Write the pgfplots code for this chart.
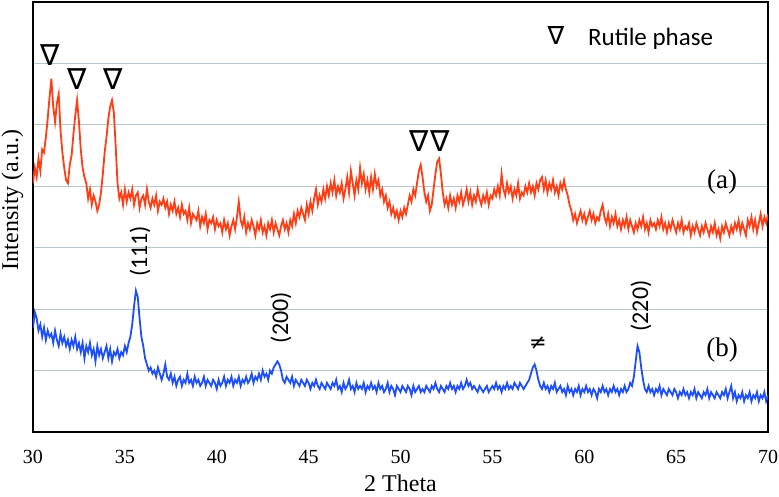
\documentclass[border=0pt]{standalone}
\usepackage{pgfplots}
\pgfplotsset{compat=1.18}
\usepackage{fontspec}
\setmainfont{Liberation Serif}
\newfontfamily\carl{Carlito}
\newfontfamily\dejavu{DejaVu Sans}
\definecolor{gridc}{RGB}{185,198,204}
\definecolor{redc}{RGB}{255,62,22}
\definecolor{bluec}{RGB}{30,78,245}
\begin{document}
\begin{tikzpicture}
\path[use as bounding box] (-33pt,-64pt) rectangle (746pt,432pt);
\begin{axis}[
  scale only axis, width=735pt, height=430pt,
  xmin=30, xmax=70, ymin=0, ymax=7,
  xtick={30,35,...,70}, ytick={1,2,3,4,5,6}, yticklabels={},
  ymajorgrids, grid style={color=gridc, line width=1.2pt},
  major tick length=0pt,
  axis line style={line width=1.2pt},
  tick label style={font=\fontsize{20}{22}\selectfont},
  xticklabel style={yshift=-25pt, anchor=center},
  /pgf/number format/assume math mode=true,
  xlabel={2 Theta}, ylabel={Intensity (a.u.)},
  label style={font=\fontsize{24}{26}\selectfont},
  xlabel style={at={(axis description cs:0.5,-0.139)}, anchor=base},
  ylabel style={at={(axis description cs:-0.0204,0.54)}, anchor=base},
]
\addplot[color=redc, line width=1.8pt] coordinates {
(30.0,4.05)(30.1,4.30)(30.2,4.15)(30.3,4.45)(30.4,4.25)(30.5,4.60)(30.6,4.55)(30.7,4.80)(30.8,5.10)(30.9,5.45)
(31.0,5.75)(31.1,5.30)(31.2,5.05)(31.3,5.35)(31.4,5.50)(31.5,4.90)(31.6,4.55)(31.7,4.30)(31.8,4.10)(31.9,4.05)
(32.0,4.35)(32.1,4.50)(32.2,4.85)(32.3,5.15)(32.4,5.40)(32.5,5.05)(32.6,4.60)(32.7,4.30)(32.8,4.15)(32.9,4.05)
(33.0,3.80)(33.1,3.95)(33.2,3.70)(33.3,3.85)(33.4,3.75)(33.5,3.60)(33.6,3.70)(33.7,3.90)(33.8,4.20)(33.9,4.55)
(34.0,4.80)(34.1,5.10)(34.2,5.30)(34.3,5.40)(34.4,5.20)(34.5,4.65)(34.6,4.05)(34.7,3.80)(34.8,3.90)(34.9,3.70)
(35.0,3.95)(35.1,3.75)(35.2,3.90)(35.3,3.80)(35.4,3.95)(35.5,3.70)(35.6,3.85)(35.7,3.90)(35.8,3.65)(35.9,3.80)
(36.0,3.85)(36.1,3.70)(36.2,3.95)(36.3,3.75)(36.4,3.65)(36.5,3.80)(36.6,3.70)(36.7,3.85)(36.8,3.60)(36.9,3.75)
(37.0,3.70)(37.1,3.80)(37.2,3.65)(37.3,3.75)(37.4,3.55)(37.5,3.70)(37.6,3.60)(37.7,3.75)(37.8,3.55)(37.9,3.65)
(38.0,3.50)(38.1,3.70)(38.2,3.55)(38.3,3.60)(38.4,3.45)(38.5,3.65)(38.6,3.40)(38.7,3.55)(38.8,3.50)(38.9,3.45)
(39.0,3.60)(39.1,3.35)(39.2,3.50)(39.3,3.40)(39.4,3.55)(39.5,3.30)(39.6,3.45)(39.7,3.40)(39.8,3.50)(39.9,3.30)
(40.0,3.45)(40.1,3.35)(40.2,3.40)(40.3,3.25)(40.4,3.45)(40.5,3.30)(40.6,3.40)(40.7,3.20)(40.8,3.35)(40.9,3.45)
(41.0,3.30)(41.1,3.50)(41.2,3.75)(41.3,3.45)(41.4,3.35)(41.5,3.50)(41.6,3.25)(41.7,3.40)(41.8,3.30)(41.9,3.45)
(42.0,3.35)(42.1,3.20)(42.2,3.40)(42.3,3.30)(42.4,3.45)(42.5,3.25)(42.6,3.35)(42.7,3.20)(42.8,3.40)(42.9,3.30)
(43.0,3.45)(43.1,3.25)(43.2,3.40)(43.3,3.30)(43.4,3.20)(43.5,3.35)(43.6,3.45)(43.7,3.30)(43.8,3.40)(43.9,3.25)
(44.0,3.45)(44.1,3.35)(44.2,3.55)(44.3,3.40)(44.4,3.60)(44.5,3.50)(44.6,3.65)(44.7,3.55)(44.8,3.45)(44.9,3.70)
(45.0,3.55)(45.1,3.75)(45.2,3.60)(45.3,3.80)(45.4,3.95)(45.5,3.70)(45.6,3.85)(45.7,3.75)(45.8,3.95)(45.9,3.80)
(46.0,4.00)(46.1,3.85)(46.2,4.05)(46.3,3.90)(46.4,4.10)(46.5,3.85)(46.6,4.00)(46.7,3.90)(46.8,4.05)(46.9,3.80)
(47.0,3.95)(47.1,4.15)(47.2,3.90)(47.3,4.25)(47.4,4.05)(47.5,3.85)(47.6,4.10)(47.7,3.95)(47.8,4.30)(47.9,4.05)
(48.0,4.20)(48.1,3.95)(48.2,4.10)(48.3,3.90)(48.4,4.15)(48.5,3.95)(48.6,4.20)(48.7,4.00)(48.8,4.10)(48.9,3.85)
(49.0,3.95)(49.1,3.75)(49.2,3.85)(49.3,3.65)(49.4,3.75)(49.5,3.55)(49.6,3.65)(49.7,3.50)(49.8,3.60)(49.9,3.45)
(50.0,3.60)(50.1,3.50)(50.2,3.65)(50.3,3.55)(50.4,3.70)(50.5,3.85)(50.6,3.75)(50.7,3.95)(50.8,3.85)(50.9,4.05)
(51.0,4.25)(51.1,4.35)(51.2,4.15)(51.3,3.90)(51.4,3.75)(51.5,3.85)(51.6,3.60)(51.7,3.70)(51.8,3.95)(51.9,4.20)
(52.0,4.40)(52.1,4.45)(52.2,4.20)(52.3,3.90)(52.4,3.70)(52.5,3.80)(52.6,3.65)(52.7,3.85)(52.8,3.70)(52.9,3.80)
(53.0,3.65)(53.1,3.85)(53.2,3.75)(53.3,3.90)(53.4,3.70)(53.5,3.80)(53.6,3.95)(53.7,3.75)(53.8,3.90)(53.9,3.70)
(54.0,3.85)(54.1,3.75)(54.2,3.95)(54.3,3.80)(54.4,3.70)(54.5,3.85)(54.6,3.75)(54.7,3.90)(54.8,3.70)(54.9,3.85)
(55.0,3.80)(55.1,3.95)(55.2,3.85)(55.3,4.00)(55.4,3.85)(55.5,4.20)(55.6,3.95)(55.7,3.85)(55.8,4.05)(55.9,3.90)
(56.0,4.00)(56.1,3.80)(56.2,3.95)(56.3,3.85)(56.4,4.05)(56.5,3.80)(56.6,3.90)(56.7,3.85)(56.8,4.00)(56.9,3.90)
(57.0,4.05)(57.1,3.90)(57.2,4.00)(57.3,3.85)(57.4,4.05)(57.5,3.95)(57.6,4.10)(57.7,4.15)(57.8,3.95)(57.9,4.10)
(58.0,3.90)(58.1,4.05)(58.2,3.95)(58.3,4.10)(58.4,3.90)(58.5,4.00)(58.6,3.85)(58.7,4.05)(58.8,3.95)(58.9,4.10)
(59.0,3.95)(59.1,3.85)(59.2,3.70)(59.3,3.60)(59.4,3.45)(59.5,3.55)(59.6,3.40)(59.7,3.50)(59.8,3.60)(59.9,3.45)
(60.0,3.55)(60.1,3.40)(60.2,3.50)(60.3,3.60)(60.4,3.45)(60.5,3.55)(60.6,3.40)(60.7,3.50)(60.8,3.45)(60.9,3.60)
(61.0,3.70)(61.1,3.50)(61.2,3.40)(61.3,3.55)(61.4,3.35)(61.5,3.50)(61.6,3.40)(61.7,3.55)(61.8,3.35)(61.9,3.45)
(62.0,3.30)(62.1,3.45)(62.2,3.35)(62.3,3.50)(62.4,3.30)(62.5,3.45)(62.6,3.35)(62.7,3.25)(62.8,3.40)(62.9,3.30)
(63.0,3.45)(63.1,3.35)(63.2,3.50)(63.3,3.30)(63.4,3.40)(63.5,3.25)(63.6,3.45)(63.7,3.35)(63.8,3.40)(63.9,3.30)
(64.0,3.45)(64.1,3.35)(64.2,3.50)(64.3,3.30)(64.4,3.40)(64.5,3.25)(64.6,3.40)(64.7,3.30)(64.8,3.45)(64.9,3.35)
(65.0,3.25)(65.1,3.40)(65.2,3.30)(65.3,3.45)(65.4,3.25)(65.5,3.35)(65.6,3.30)(65.7,3.40)(65.8,3.20)(65.9,3.35)
(66.0,3.25)(66.1,3.40)(66.2,3.30)(66.3,3.20)(66.4,3.35)(66.5,3.25)(66.6,3.40)(66.7,3.30)(66.8,3.20)(66.9,3.35)
(67.0,3.25)(67.1,3.40)(67.2,3.20)(67.3,3.30)(67.4,3.15)(67.5,3.35)(67.6,3.25)(67.7,3.40)(67.8,3.30)(67.9,3.20)
(68.0,3.35)(68.1,3.25)(68.2,3.40)(68.3,3.30)(68.4,3.45)(68.5,3.25)(68.6,3.40)(68.7,3.30)(68.8,3.20)(68.9,3.45)
(69.0,3.35)(69.1,3.50)(69.2,3.30)(69.3,3.45)(69.4,3.25)(69.5,3.40)(69.6,3.55)(69.7,3.35)(69.8,3.50)(69.9,3.40)
(70.0,3.55)
};
\addplot[color=bluec, line width=1.8pt] coordinates {
(30.0,1.70)(30.1,1.95)(30.2,1.85)(30.3,1.65)(30.4,1.75)(30.5,1.55)(30.6,1.70)(30.7,1.50)(30.8,1.65)(30.9,1.55)
(31.0,1.60)(31.1,1.45)(31.2,1.65)(31.3,1.50)(31.4,1.40)(31.5,1.60)(31.6,1.45)(31.7,1.55)(31.8,1.40)(31.9,1.50)
(32.0,1.35)(32.1,1.50)(32.2,1.40)(32.3,1.55)(32.4,1.35)(32.5,1.45)(32.6,1.30)(32.7,1.45)(32.8,1.20)(32.9,1.40)
(33.0,1.30)(33.1,1.45)(33.2,1.25)(33.3,1.35)(33.4,1.15)(33.5,1.40)(33.6,1.25)(33.7,1.35)(33.8,1.20)(33.9,1.30)
(34.0,1.40)(34.1,1.20)(34.2,1.35)(34.3,1.15)(34.4,1.30)(34.5,1.25)(34.6,1.35)(34.7,1.20)(34.8,1.30)(34.9,1.25)
(35.0,1.40)(35.1,1.30)(35.2,1.45)(35.3,1.55)(35.4,1.75)(35.5,2.05)(35.6,2.30)(35.7,2.20)(35.8,1.85)(35.9,1.55)
(36.0,1.40)(36.1,1.20)(36.2,1.10)(36.3,1.00)(36.4,1.05)(36.5,0.95)(36.6,1.00)(36.7,0.90)(36.8,1.05)(36.9,0.95)
(37.0,0.85)(37.1,0.95)(37.2,1.10)(37.3,0.90)(37.4,0.85)(37.5,0.95)(37.6,0.80)(37.7,0.90)(37.8,0.75)(37.9,0.85)
(38.0,0.90)(38.1,0.75)(38.2,0.85)(38.3,0.80)(38.4,0.95)(38.5,0.80)(38.6,0.85)(38.7,0.75)(38.8,0.90)(38.9,0.80)
(39.0,0.85)(39.1,0.75)(39.2,0.80)(39.3,0.90)(39.4,0.75)(39.5,0.85)(39.6,0.80)(39.7,0.75)(39.8,0.85)(39.9,0.80)
(40.0,0.70)(40.1,0.85)(40.2,0.75)(40.3,0.80)(40.4,0.90)(40.5,0.75)(40.6,0.85)(40.7,0.80)(40.8,0.90)(40.9,0.75)
(41.0,0.85)(41.1,0.80)(41.2,0.90)(41.3,0.75)(41.4,0.85)(41.5,0.80)(41.6,0.90)(41.7,0.80)(41.8,0.85)(41.9,0.95)
(42.0,0.80)(42.1,0.90)(42.2,0.85)(42.3,0.95)(42.4,0.85)(42.5,1.00)(42.6,0.90)(42.7,0.95)(42.8,0.85)(42.9,1.00)
(43.0,0.95)(43.1,1.05)(43.2,1.10)(43.3,1.15)(43.4,1.10)(43.5,1.00)(43.6,0.85)(43.7,0.80)(43.8,0.90)(43.9,0.85)
(44.0,0.80)(44.1,0.90)(44.2,0.75)(44.3,0.85)(44.4,0.80)(44.5,0.75)(44.6,0.85)(44.7,0.80)(44.8,0.75)(44.9,0.85)
(45.0,0.80)(45.1,0.70)(45.2,0.80)(45.3,0.75)(45.4,0.85)(45.5,0.75)(45.6,0.70)(45.7,0.80)(45.8,0.75)(45.9,0.70)
(46.0,0.80)(46.1,0.75)(46.2,0.70)(46.3,0.80)(46.4,0.75)(46.5,0.85)(46.6,0.70)(46.7,0.75)(46.8,0.65)(46.9,0.80)
(47.0,0.70)(47.1,0.75)(47.2,0.85)(47.3,0.70)(47.4,0.75)(47.5,0.65)(47.6,0.80)(47.7,0.70)(47.8,0.75)(47.9,0.70)
(48.0,0.80)(48.1,0.65)(48.2,0.75)(48.3,0.70)(48.4,0.80)(48.5,0.70)(48.6,0.75)(48.7,0.65)(48.8,0.80)(48.9,0.70)
(49.0,0.75)(49.1,0.65)(49.2,0.70)(49.3,0.80)(49.4,0.65)(49.5,0.75)(49.6,0.70)(49.7,0.60)(49.8,0.75)(49.9,0.70)
(50.0,0.65)(50.1,0.75)(50.2,0.70)(50.3,0.65)(50.4,0.75)(50.5,0.70)(50.6,0.60)(50.7,0.75)(50.8,0.65)(50.9,0.70)
(51.0,0.75)(51.1,0.65)(51.2,0.70)(51.3,0.65)(51.4,0.75)(51.5,0.70)(51.6,0.65)(51.7,0.75)(51.8,0.70)(51.9,0.80)
(52.0,0.70)(52.1,0.65)(52.2,0.75)(52.3,0.70)(52.4,0.65)(52.5,0.75)(52.6,0.70)(52.7,0.80)(52.8,0.70)(52.9,0.75)
(53.0,0.65)(53.1,0.75)(53.2,0.70)(53.3,0.80)(53.4,0.70)(53.5,0.75)(53.6,0.85)(53.7,0.75)(53.8,0.80)(53.9,0.70)
(54.0,0.75)(54.1,0.70)(54.2,0.65)(54.3,0.75)(54.4,0.70)(54.5,0.65)(54.6,0.70)(54.7,0.75)(54.8,0.65)(54.9,0.70)
(55.0,0.75)(55.1,0.70)(55.2,0.80)(55.3,0.70)(55.4,0.75)(55.5,0.65)(55.6,0.75)(55.7,0.70)(55.8,0.80)(55.9,0.70)
(56.0,0.75)(56.1,0.70)(56.2,0.80)(56.3,0.75)(56.4,0.70)(56.5,0.80)(56.6,0.75)(56.7,0.70)(56.8,0.75)(56.9,0.80)
(57.0,0.85)(57.1,0.95)(57.2,1.05)(57.3,1.10)(57.4,1.00)(57.5,0.85)(57.6,0.75)(57.7,0.70)(57.8,0.80)(57.9,0.70)
(58.0,0.75)(58.1,0.65)(58.2,0.75)(58.3,0.70)(58.4,0.80)(58.5,0.65)(58.6,0.70)(58.7,0.75)(58.8,0.65)(58.9,0.70)
(59.0,0.60)(59.1,0.75)(59.2,0.65)(59.3,0.70)(59.4,0.60)(59.5,0.70)(59.6,0.65)(59.7,0.75)(59.8,0.60)(59.9,0.70)
(60.0,0.65)(60.1,0.75)(60.2,0.65)(60.3,0.70)(60.4,0.60)(60.5,0.70)(60.6,0.65)(60.7,0.55)(60.8,0.70)(60.9,0.65)
(61.0,0.75)(61.1,0.65)(61.2,0.70)(61.3,0.60)(61.4,0.70)(61.5,0.65)(61.6,0.75)(61.7,0.65)(61.8,0.70)(61.9,0.60)
(62.0,0.70)(62.1,0.65)(62.2,0.75)(62.3,0.65)(62.4,0.70)(62.5,0.80)(62.6,0.75)(62.7,0.90)(62.8,1.15)(62.9,1.40)
(63.0,1.30)(63.1,1.05)(63.2,0.85)(63.3,0.70)(63.4,0.65)(63.5,0.75)(63.6,0.65)(63.7,0.70)(63.8,0.60)(63.9,0.70)
(64.0,0.65)(64.1,0.75)(64.2,0.60)(64.3,0.70)(64.4,0.65)(64.5,0.60)(64.6,0.70)(64.7,0.65)(64.8,0.60)(64.9,0.70)
(65.0,0.65)(65.1,0.55)(65.2,0.65)(65.3,0.60)(65.4,0.70)(65.5,0.60)(65.6,0.65)(65.7,0.55)(65.8,0.65)(65.9,0.60)
(66.0,0.70)(66.1,0.55)(66.2,0.65)(66.3,0.60)(66.4,0.55)(66.5,0.65)(66.6,0.60)(66.7,0.70)(66.8,0.55)(66.9,0.65)
(67.0,0.60)(67.1,0.55)(67.2,0.65)(67.3,0.60)(67.4,0.55)(67.5,0.65)(67.6,0.60)(67.7,0.70)(67.8,0.55)(67.9,0.65)
(68.0,0.75)(68.1,0.55)(68.2,0.65)(68.3,0.50)(68.4,0.60)(68.5,0.55)(68.6,0.65)(68.7,0.50)(68.8,0.60)(68.9,0.55)
(69.0,0.65)(69.1,0.50)(69.2,0.60)(69.3,0.55)(69.4,0.65)(69.5,0.50)(69.6,0.60)(69.7,0.55)(69.8,0.65)(69.9,0.50)
(70.0,0.60)
};
% rutile markers
\node[font=\dejavu\fontsize{29}{30}\selectfont] at (axis cs:30.93,6.14) {∇};
\node[font=\dejavu\fontsize{29}{30}\selectfont] at (axis cs:32.39,5.75) {∇};
\node[font=\dejavu\fontsize{29}{30}\selectfont] at (axis cs:34.36,5.75) {∇};
\node[font=\dejavu\fontsize{29}{30}\selectfont] at (axis cs:51.0,4.74) {∇};
\node[font=\dejavu\fontsize{29}{30}\selectfont] at (axis cs:52.15,4.74) {∇};
% legend text
\node[font=\dejavu\fontsize{25}{27}\selectfont] at (axis cs:58.46,6.46) {∇};
\node[font=\carl\fontsize{25}{28}\selectfont, anchor=base west, inner sep=0pt] at (axis cs:60.2,6.30) {Rutile phase};
% peak indices
\node[font=\carl\fontsize{24}{26}\selectfont, rotate=90] at (axis cs:35.82,2.94) {(111)};
\node[font=\carl\fontsize{24}{26}\selectfont, rotate=90] at (axis cs:43.5,1.86) {(200)};
\node[font=\carl\fontsize{24}{26}\selectfont, rotate=90] at (axis cs:63.09,2.05) {(220)};
\node[font=\dejavu\fontsize{21}{22}\selectfont] at (axis cs:57.48,1.45) {≠};
\node[font=\fontsize{27}{30}\selectfont] at (axis cs:67.5,4.07) {(a)};
\node[font=\fontsize{27}{30}\selectfont] at (axis cs:67.5,1.34) {(b)};
\end{axis}
\end{tikzpicture}
\end{document}
